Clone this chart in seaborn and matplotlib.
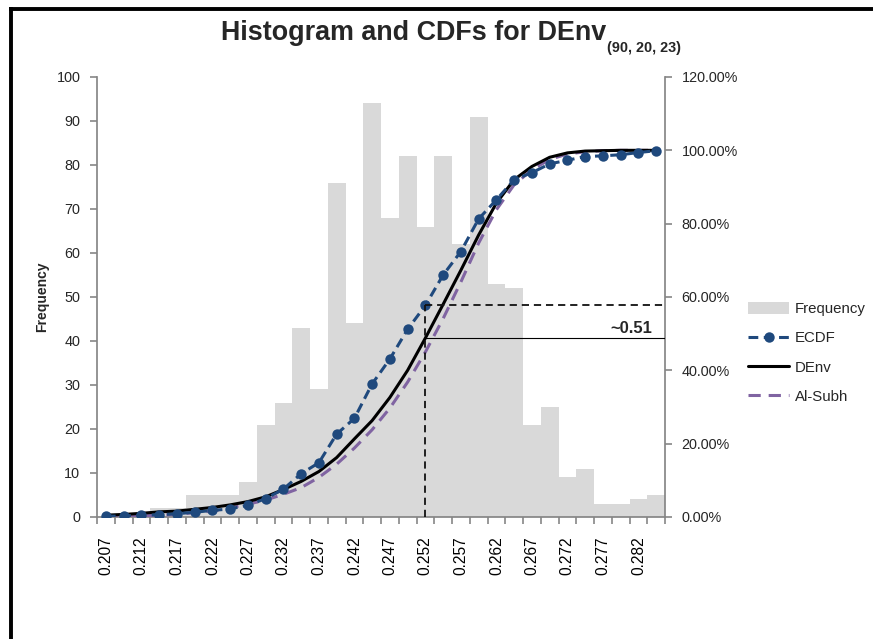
import numpy as np
import matplotlib
matplotlib.use("Agg")
import matplotlib.pyplot as plt
from matplotlib.lines import Line2D
from matplotlib.patches import Patch
import seaborn as sns

# bin centres (category axis) and histogram counts
bins = [0.2070, 0.2095, 0.2120, 0.2145, 0.2170, 0.2195, 0.2220, 0.2245,
        0.2270, 0.2295, 0.2320, 0.2345, 0.2370, 0.2395, 0.2420, 0.2445,
        0.2470, 0.2495, 0.2520, 0.2545, 0.2570, 0.2595, 0.2620, 0.2645,
        0.2670, 0.2695, 0.2720, 0.2745, 0.2770, 0.2795, 0.2820, 0.2845]
freq = [0, 0, 0, 2, 2, 5, 5, 5, 8, 21, 26, 43, 29, 76, 44, 94,
        68, 82, 66, 82, 62, 91, 53, 52, 21, 25, 9, 11, 3, 3, 4, 5]

# cumulative curves, in percent
ecdf = [0.2, 0.3, 0.5, 0.6, 0.9, 1.3, 1.8, 2.2, 3.2, 5.0, 7.6, 11.8, 14.8, 22.6, 26.9, 36.3,
        43.1, 51.2, 57.7, 66.0, 72.4, 81.3, 86.5, 92.0, 93.9, 96.3, 97.3, 98.3, 98.5, 98.8, 99.4, 99.9]
denv = [0.5, 0.7, 1.0, 1.4, 1.6, 2.1, 2.6, 3.3, 4.2, 5.5, 7.5, 9.7, 12.4, 16.2, 21.3, 26.3,
        32.6, 40.0, 48.8, 58.0, 67.3, 76.9, 85.6, 92.0, 95.6, 98.1, 99.3, 99.8, 99.9, 100.0, 100.0, 100.0]
alsubh = [0.0, 0.1, 0.3, 0.5, 0.7, 1.2, 1.6, 2.5, 3.5, 4.6, 6.2, 8.0, 10.8, 14.4, 18.8, 23.8,
          29.7, 36.8, 45.0, 54.1, 64.1, 74.7, 83.8, 90.6, 94.7, 97.5, 99.0, 99.6, 99.9, 100.0, 100.0, 100.0]

mark_idx = 18          # 0.252
mark_text = "~0.51"

sns.set_theme(style="white")
plt.rcParams["font.family"] = ["Liberation Sans", "DejaVu Sans"]

BAR = "#D9D9D9"
BLUE = "#1F497D"
PURPLE = "#8064A2"
AXC = "#868686"
FS = 10.4

fig = plt.figure(figsize=(8.73, 6.39), dpi=100)
ax = fig.add_axes([97 / 873, 1 - 517 / 639, 568 / 873, 440 / 639])

labels = [f"{b:.4f}" for b in bins]
sns.barplot(x=labels, y=freq, color=BAR, saturation=1, width=1.0,
            linewidth=0, ax=ax, zorder=1)
pos = np.arange(len(bins))

ax.set_xlim(-0.5, len(bins) - 0.5)
ax.set_ylim(0, 100)
ax.set_yticks(np.arange(0, 101, 10))
ax.set_xticks(pos[::2])
ax.set_xticklabels([f"{b:.3f}" for b in bins[::2]], rotation=90)
ax.set_xticks(np.arange(-0.5, len(bins)), minor=True)
ax.tick_params(axis="x", which="major", length=0, pad=14, labelsize=11.2, colors="black")
ax.tick_params(axis="x", which="minor", length=5, width=1.2, color=AXC, bottom=True)
ax.tick_params(axis="y", length=5, width=1.2, color=AXC, pad=7, labelsize=FS, left=True)
ax.set_xlabel("")
ax.set_ylabel("Frequency", fontsize=10, fontweight="bold")
ax.yaxis.set_label_coords(-0.084, 0.5)
for s in ["top", "right"]:
    ax.spines[s].set_visible(False)
for s in ["left", "bottom"]:
    ax.spines[s].set_color(AXC)
    ax.spines[s].set_linewidth(1.25)

ax2 = ax.twinx()
sns.lineplot(x=pos, y=alsubh, ax=ax2, color=PURPLE, lw=2.2,
             linestyle=(0, (4, 2.6)), zorder=3)
sns.lineplot(x=pos, y=denv, ax=ax2, color="black", lw=2.2, zorder=4)
sns.lineplot(x=pos, y=ecdf, ax=ax2, color=BLUE, lw=2.2, linestyle=(0, (3.2, 1.8)),
             marker="o", markersize=7.5, markeredgewidth=0, zorder=5)

# marker lines at 0.252
ax2.vlines(mark_idx, 0, ecdf[mark_idx], color="#111111", lw=1.3,
           linestyle=(0, (4, 2.7)), zorder=6)
ax2.hlines(ecdf[mark_idx], mark_idx, len(bins) - 0.5, color="#111111", lw=1.3,
           linestyle=(0, (4, 2.7)), zorder=6)
ax2.hlines(denv[mark_idx], mark_idx, len(bins) - 0.5, color="black", lw=0.8, zorder=6)
ax2.text(len(bins) - 1.2, denv[mark_idx] + 0.6, mark_text, ha="right", va="bottom",
         fontsize=12, fontweight="bold")

ax2.set_xlim(-0.5, len(bins) - 0.5)
ax2.set_ylim(0, 120)
ax2.set_yticks(np.arange(0, 121, 20))
ax2.set_yticklabels([f"{v:.2f}%" for v in np.arange(0, 121, 20)])
ax2.tick_params(axis="y", length=5, width=1.2, color=AXC, pad=7, labelsize=FS, right=True)
ax2.set_ylabel("")
for s in ["top", "left", "bottom"]:
    ax2.spines[s].set_visible(False)
ax2.spines["right"].set_color(AXC)
ax2.spines["right"].set_linewidth(1.25)

handles = [
    Patch(facecolor=BAR, edgecolor="none"),
    Line2D([], [], color=BLUE, lw=2.2, linestyle=(0, (3.2, 1.8)), marker="o",
           markersize=7.5, markeredgewidth=0),
    Line2D([], [], color="black", lw=2.2),
    Line2D([], [], color=PURPLE, lw=2.2, linestyle=(0, (4, 2.6))),
]
fig.legend(handles, ["Frequency", "ECDF", "DEnv", "Al-Subh"],
           loc="upper left", bbox_to_anchor=(748 / 873, 1 - 302 / 639),
           frameon=False, fontsize=10.8, handlelength=2.75, handleheight=0.9,
           handletextpad=0.35, labelspacing=0.98, borderpad=0, borderaxespad=0)

# title with subscript
fig.text(221 / 873, 1 - 39.5 / 639, "Histogram and CDFs for DEnv", ha="left",
         va="baseline", fontsize=19.4, fontweight="bold")
fig.text(607 / 873, 1 - 52 / 639, "(90, 20, 23)", ha="left", va="baseline",
         fontsize=10.4, fontweight="bold")

# chart border (top and left edges visible)
fig.add_artist(Line2D([11.3 / 873, 1.0], [1 - 8.5 / 639] * 2, color="black",
                      lw=2.8, transform=fig.transFigure, solid_capstyle="projecting"))
fig.add_artist(Line2D([11.3 / 873] * 2, [0.0, 1 - 8.5 / 639], color="black",
                      lw=2.8, transform=fig.transFigure, solid_capstyle="projecting"))

fig.savefig("out.png", dpi=100, facecolor="white")
